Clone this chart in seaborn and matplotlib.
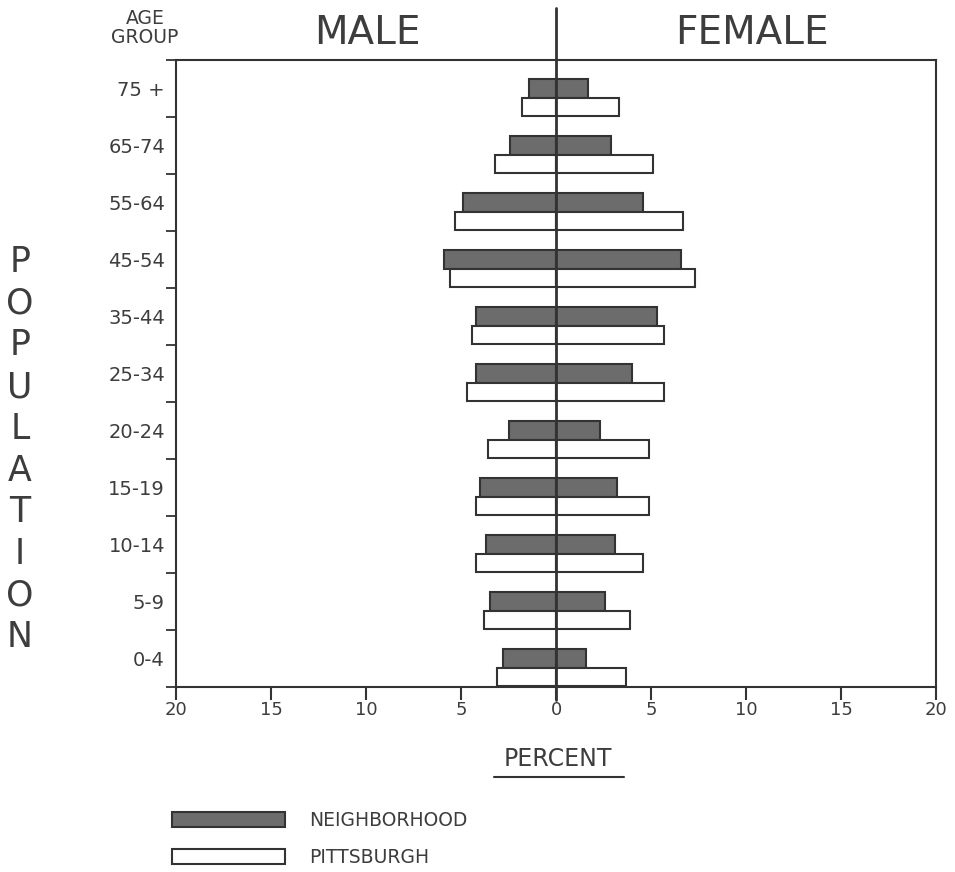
import numpy as np
import pandas as pd
import matplotlib
matplotlib.use("Agg")
import matplotlib.pyplot as plt
from matplotlib.lines import Line2D
import seaborn as sns

# ---------------- data ----------------
age_groups = ["75 +", "65-74", "55-64", "45-54", "35-44", "25-34",
              "20-24", "15-19", "10-14", "5-9", "0-4"]
series_names = ["NEIGHBORHOOD", "PITTSBURGH"]
neigh_male = [1.4, 2.4, 4.9, 5.9, 4.2, 4.2, 2.5, 4.0, 3.7, 3.5, 2.8]
neigh_female = [1.7, 2.9, 4.6, 6.6, 5.3, 4.0, 2.3, 3.2, 3.1, 2.6, 1.6]
pitt_male = [1.8, 3.2, 5.3, 5.6, 4.4, 4.7, 3.6, 4.2, 4.2, 3.8, 3.1]
pitt_female = [3.3, 5.1, 6.7, 7.3, 5.7, 5.7, 4.9, 4.9, 4.6, 3.9, 3.7]
x_ticks = [-20, -15, -10, -5, 0, 5, 10, 15, 20]
x_tick_labels = ["20", "15", "10", "5", "0", "5", "10", "15", "20"]

rows = []
for name, male, female in [(series_names[0], neigh_male, neigh_female),
                           (series_names[1], pitt_male, pitt_female)]:
    for age, m, f in zip(age_groups, male, female):
        rows.append({"age": age, "series": name, "male": -m, "female": f})
df = pd.DataFrame(rows)

# ---------------- style ----------------
sns.set_style("ticks")
plt.rcParams["font.family"] = ["DejaVu Sans"]
text_c = "#3d3d3d"
line_c = "#333333"
palette = {series_names[0]: "#6c6c6c", series_names[1]: "#ffffff"}

fig = plt.figure(figsize=(9.55, 8.72), dpi=100)
fig.patch.set_facecolor("white")
ax = fig.add_axes([0.1843, 0.2122, 0.7958, 0.7190])

common = dict(y="age", hue="series", order=age_groups, hue_order=series_names,
              palette=palette, width=0.64, edgecolor=line_c, linewidth=1.5,
              orient="h", errorbar=None, saturation=1, ax=ax)
sns.barplot(data=df, x="male", legend=False, **common)
sns.barplot(data=df, x="female", legend=True, **common)

ax.set_xlim(-20, 20)
ax.set_ylim(10.34, -0.66)
ax.set_xlabel("")
ax.set_ylabel("")

for s in ax.spines.values():
    s.set_visible(True)
    s.set_color(line_c)
    s.set_linewidth(1.5)

ax.set_xticks(x_ticks, x_tick_labels)
ax.tick_params(axis="x", direction="out", length=9, width=1.5, color=line_c,
               labelsize=13, labelcolor=text_c, pad=1)
ax.set_yticks(np.arange(len(age_groups)) - 0.16, age_groups)
ax.set_yticks(np.arange(-1, len(age_groups)) + 0.34, minor=True)
ax.tick_params(axis="y", which="major", length=0, pad=8, labelsize=14,
               labelcolor=text_c)
ax.tick_params(axis="y", which="minor", direction="out", length=7, width=1.3,
               color=line_c, left=True)

# centre line, extended above the frame
ax.plot([0, 0], [-0.02, 1.083], transform=ax.get_xaxis_transform(),
        color=line_c, lw=2.0, clip_on=False, zorder=5)

# legend
sns.move_legend(ax, loc="upper left", bbox_to_anchor=(172 / 955, 1 - 811 / 872),
                bbox_transform=fig.transFigure, frameon=False, title=None,
                fontsize=13.5, handlelength=6.0, handleheight=0.9,
                labelspacing=0.95, handletextpad=1.3, borderpad=0,
                borderaxespad=0, labelcolor=text_c)

# texts
fig.text(367 / 955, 1 - 33 / 872, "MALE", ha="center", va="center",
         fontsize=28, color=text_c)
fig.text(752 / 955, 1 - 33 / 872, "FEMALE", ha="center", va="center",
         fontsize=28, color=text_c)
fig.text(145 / 955, 1 - 28 / 872, "AGE\nGROUP", ha="center", va="center",
         fontsize=13.5, color=text_c, linespacing=1.0)
for k, ch in enumerate("POPULATION"):
    fig.text(20 / 955, 1 - (262 + 41.7 * k) / 872, ch, ha="center",
             va="center", fontsize=25, color=text_c)
fig.text(558 / 955, 1 - 759 / 872, "PERCENT", ha="center", va="center",
         fontsize=17, color=text_c)
fig.add_artist(Line2D([494 / 955, 624 / 955], [1 - 777 / 872, 1 - 777 / 872],
                      transform=fig.transFigure, color=line_c, lw=1.5))

fig.savefig("out.png", dpi=100, facecolor="white")
